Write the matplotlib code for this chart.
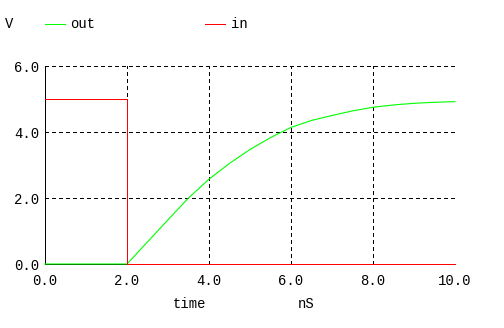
import matplotlib
matplotlib.use("Agg")
import matplotlib.pyplot as plt
from matplotlib.lines import Line2D

plt.rcParams['font.family'] = ['Liberation Mono', 'DejaVu Sans Mono']
plt.rcParams['font.size'] = 10
plt.rcParams['lines.scale_dashes'] = False

# simulation traces (time in nS, voltage in V)
t_out = [0.0, 2.0, 2.5, 3.0, 3.5, 4.0, 4.5, 5.0, 5.5, 6.0, 6.5, 7.0, 7.5, 8.0, 8.5, 9.0, 9.5, 10.0]
v_out = [0.0, 0.0, 0.67, 1.34, 2.0, 2.57, 3.05, 3.47, 3.83, 4.14, 4.35, 4.5, 4.64, 4.75, 4.82, 4.87, 4.9, 4.92]
t_in = [0.0, 2.0, 2.0, 10.0]
v_in = [5.0, 5.0, 0.0, 0.0]

x_ticks = [0, 2, 4, 6, 8, 10]
y_ticks = [0, 2, 4, 6]

W, H = 504, 328
fig = plt.figure(figsize=(W / 100, H / 100), dpi=100)
ax = fig.add_axes([45 / W, 64 / H, 410 / W, 198 / H])

green = '#00ff00'
red = '#ff0000'

# grid
for xv in x_ticks[1:]:
    ax.axvline(xv, color='black', lw=0.72, dashes=(2.88, 2.88), zorder=1, antialiased=False)
for yv in y_ticks[1:]:
    ax.axhline(yv, color='black', lw=0.72, dashes=(2.88, 2.88), zorder=1, antialiased=False)

ax.plot(t_out, v_out, color=green, lw=0.8, zorder=5, clip_on=False)
ax.plot(t_in, v_in, color=red, lw=0.72, zorder=6, clip_on=False, antialiased=False)

ax.set_xlim(0, 10)
ax.set_ylim(0, 6)
ax.set_xticks(x_ticks)
ax.set_xticklabels([f"{v:.1f}" for v in x_ticks])
ax.set_yticks(y_ticks)
ax.set_yticklabels([f"{v:.1f}" for v in y_ticks])
ax.tick_params(axis='x', length=0, pad=7, labelsize=10)
ax.tick_params(axis='y', length=0, pad=4, labelsize=10)

for s in ['top', 'right']:
    ax.spines[s].set_visible(False)
ax.spines['left'].set_linewidth(0.72)
ax.spines['bottom'].set_linewidth(0.72)
ax.spines['left'].set_zorder(2)
ax.spines['bottom'].set_zorder(2)

# axis labels
fig.text(190 / W, 1 - 304 / H, 'time', ha='center', va='center')
fig.text(306 / W, 1 - 304 / H, 'nS', ha='center', va='center')

# legend row
fig.text(5 / W, 1 - 24 / H, 'V', ha='left', va='center')
ly = 1 - 24 / H
fig.add_artist(Line2D([45 / W, 65 / W], [ly, ly], color=green, lw=0.72, transform=fig.transFigure))
fig.text(70 / W, ly, 'out', ha='left', va='center')
fig.add_artist(Line2D([205 / W, 225 / W], [ly, ly], color=red, lw=0.72, transform=fig.transFigure))
fig.text(231 / W, ly, 'in', ha='left', va='center')

fig.savefig('out.png', dpi=100, facecolor='white')
